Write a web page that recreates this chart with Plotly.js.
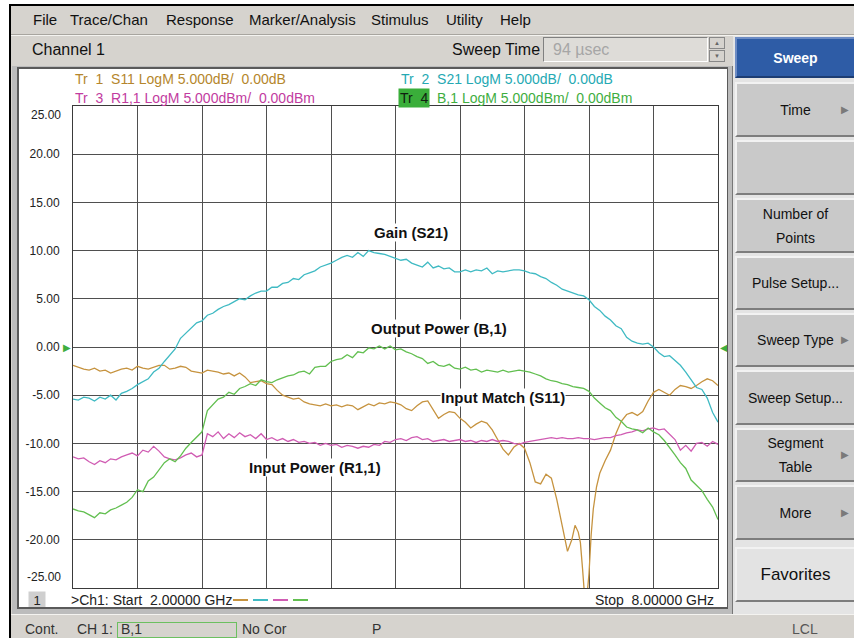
<!DOCTYPE html>
<html><head><meta charset="utf-8">
<script src="https://cdn.plot.ly/plotly-3.0.1.min.js"></script>
<style>
html,body{margin:0;padding:0;}
body{width:854px;height:638px;position:relative;overflow:hidden;background:#fff;font-family:Arial,"Liberation Sans",sans-serif;color:#111;}
.a{position:absolute;white-space:nowrap;}
.m{font-size:15px;line-height:18px;top:11px;}
.btn{position:absolute;left:735px;width:119px;background:#c9c9c9;border-top:2px solid #f2f2f2;border-left:2px solid #f2f2f2;border-bottom:2px solid #7d7d7d;box-sizing:border-box;display:flex;align-items:center;justify-content:center;text-align:center;font-size:14px;line-height:24px;color:#111;}
.arr{position:absolute;right:5px;top:50%;transform:translateY(-50%);font-size:10px;color:#7a7a7a;line-height:10px;}
.st{font-size:14px;line-height:16px;top:621px;color:#333;}
</style>
</head><body>
<div class="a" style="left:9px;top:4px;width:845px;height:634px;background:#d6d3ce;border-top:2px solid #000;border-left:2px solid #000;box-sizing:border-box;"></div>
<div class="a m" style="left:33px">File</div>
<div class="a m" style="left:70px">Trace/Chan</div>
<div class="a m" style="left:166px">Response</div>
<div class="a m" style="left:249px">Marker/Analysis</div>
<div class="a m" style="left:371px">Stimulus</div>
<div class="a m" style="left:446px">Utility</div>
<div class="a m" style="left:500px">Help</div>
<div class="a" style="left:11px;top:34px;width:843px;height:1px;background:#a8a59f;"></div>
<div class="a" style="left:11px;top:35px;width:843px;height:1px;background:#f4f3f0;"></div>
<div class="a" style="left:32px;top:41px;font-size:16px;line-height:18px;">Channel 1</div>
<div class="a" style="left:452px;top:41px;font-size:16px;line-height:18px;">Sweep Time</div>
<div class="a" style="left:543px;top:37px;width:165px;height:25px;background:#dedcd8;border-top:1px solid #808080;border-left:1px solid #808080;border-bottom:1px solid #fff;border-right:1px solid #fff;box-sizing:border-box;"></div>
<div class="a" style="left:553px;top:41px;font-size:16px;line-height:18px;color:#a6a6a6;">94 µsec</div>
<div class="a" style="left:709px;top:37px;width:16px;height:12px;background:#d6d3ce;border:1px solid #888;box-sizing:border-box;font-size:6px;line-height:10px;text-align:center;color:#666;">▲</div>
<div class="a" style="left:709px;top:50px;width:16px;height:12px;background:#d6d3ce;border:1px solid #888;box-sizing:border-box;font-size:6px;line-height:10px;text-align:center;color:#666;">▼</div>
<div class="a" style="left:12px;top:66px;width:721px;height:548px;background:#bcbcbc;border-right:1px solid #777;box-sizing:border-box;"></div>
<div class="a" style="left:17px;top:67px;width:711px;height:542px;background:#5a5a5a;"></div>
<div class="a" style="left:733px;top:36px;width:121px;height:578px;background:#e4e4e4;"></div>
<div class="btn" style="top:37px;height:41px;background:#2e5ca6;color:#fff;font-weight:bold;border-top-color:#6d8cc4;border-left-color:#6d8cc4;border-bottom-color:#1d3d73;">Sweep</div>
<div class="btn" style="top:82px;height:55px;">Time<span class="arr">▶</span></div>
<div class="btn" style="top:140px;height:55px;"></div>
<div class="btn" style="top:198px;height:55px;">Number of<br>Points</div>
<div class="btn" style="top:256px;height:54px;">Pulse Setup...</div>
<div class="btn" style="top:313px;height:54px;">Sweep Type<span class="arr">▶</span></div>
<div class="btn" style="top:370px;height:55px;">Sweep Setup...</div>
<div class="btn" style="top:428px;height:54px;">Segment<br>Table<span class="arr">▶</span></div>
<div class="btn" style="top:485px;height:55px;">More<span class="arr">▶</span></div>
<div class="btn" style="top:547px;height:55px;background:#e3e3e3;font-size:17px;">Favorites</div>
<div class="a" style="left:11px;top:614px;width:843px;height:24px;background:#d6d3ce;border-top:1px solid #f4f3f0;box-sizing:border-box;"></div>
<div class="a st" style="left:25px;">Cont.</div>
<div class="a st" style="left:77px;">CH 1:</div>
<div class="a" style="left:117px;top:622px;width:120px;height:16px;border:1px solid #6cc060;box-sizing:border-box;"></div>
<div class="a st" style="left:121px;">B,1</div>
<div class="a st" style="left:242px;">No Cor</div>
<div class="a st" style="left:372px;">P</div>
<div class="a st" style="left:792px;color:#555;">LCL</div>
<div id="plot" class="a" style="left:19px;top:69px;width:708px;height:538px;"></div>
<script>
// ---- data (frequency in GHz, levels in dB / dBm) ----
const freq = [
 2.00,2.05,2.10,2.15,2.20,2.25,2.30,2.35,2.40,2.45,
 2.50,2.55,2.60,2.65,2.70,2.75,2.80,2.85,2.90,2.95,
 3.00,3.05,3.10,3.15,3.20,3.25,3.30,3.35,3.40,3.45,
 3.50,3.55,3.60,3.65,3.70,3.75,3.80,3.85,3.90,3.95,
 4.00,4.05,4.10,4.15,4.20,4.25,4.30,4.35,4.40,4.45,
 4.50,4.55,4.60,4.65,4.70,4.75,4.80,4.85,4.90,4.95,
 5.00,5.05,5.10,5.15,5.20,5.25,5.30,5.35,5.40,5.45,
 5.50,5.55,5.60,5.65,5.70,5.75,5.80,5.85,5.90,5.95,
 6.00,6.05,6.10,6.15,6.20,6.25,6.30,6.35,6.40,6.45,
 6.50,6.55,6.60,6.65,6.70,6.75,6.80,6.85,6.90,6.95,
 7.00,7.05,7.10,7.15,7.20,7.25,7.30,7.35,7.40,7.45,
 7.50,7.55,7.60,7.65,7.70,7.75,7.80,7.85,7.90,7.95,
 8.00];
const gainS21 = [
 -5.4,-5.5,-5.2,-5.3,-5.6,-5.2,-5.4,-5.0,-5.5,-4.8,
 -4.6,-4.3,-3.9,-3.6,-3.3,-2.6,-2.2,-1.5,-0.9,-0.2,
 0.9,1.4,1.9,2.5,2.7,3.3,3.5,3.9,4.2,4.4,
 4.7,5.0,4.9,5.3,5.6,5.8,5.8,6.2,6.2,6.6,
 6.7,7.1,7.0,7.5,7.7,7.9,8.3,8.5,8.7,9.0,
 9.3,9.5,9.3,9.8,9.4,10.0,9.8,9.7,9.6,9.4,
 9.2,9.0,9.1,8.7,8.5,8.3,8.8,8.2,8.4,8.1,
 8.2,7.8,7.8,8.0,7.8,8.0,7.9,8.2,7.6,7.9,
 7.8,7.9,8.0,8.0,7.9,7.7,7.6,7.3,7.1,6.7,
 6.4,6.0,5.8,5.6,5.4,5.3,4.9,4.2,3.8,3.2,
 2.8,2.2,1.9,1.0,0.6,0.4,0.3,0.4,0.0,-0.6,
 -1.0,-0.9,-1.4,-1.9,-2.6,-3.4,-4.2,-4.4,-5.3,-6.8,
 -7.8];
const outputB1 = [
 -16.8,-17.0,-17.1,-17.4,-17.7,-17.2,-17.3,-16.9,-16.7,-16.4,
 -16.1,-15.6,-14.8,-15.0,-13.9,-13.5,-12.8,-12.0,-11.6,-11.9,
 -11.3,-10.5,-9.9,-9.3,-8.8,-6.6,-6.0,-5.4,-5.2,-4.7,
 -4.9,-4.3,-4.1,-3.8,-4.0,-3.4,-3.6,-3.7,-3.4,-3.2,
 -3.0,-2.9,-2.6,-2.5,-2.8,-2.1,-2.0,-2.0,-1.5,-1.3,
 -1.2,-0.8,-1.1,-0.5,-0.6,-0.1,-0.2,0.1,-0.2,0.1,
 -0.3,-0.2,-0.5,-0.7,-1.0,-1.2,-1.7,-1.5,-1.9,-2.0,
 -1.8,-2.2,-2.3,-2.1,-2.4,-2.3,-2.6,-2.4,-2.5,-2.6,
 -2.4,-2.6,-2.5,-2.4,-2.5,-2.6,-2.8,-3.0,-3.3,-3.5,
 -3.6,-3.8,-3.9,-4.1,-4.2,-4.3,-4.6,-5.3,-5.8,-6.3,
 -6.6,-7.3,-7.7,-8.3,-8.5,-8.6,-8.9,-8.4,-8.8,-9.1,
 -9.7,-10.4,-11.2,-12.0,-12.6,-13.8,-14.4,-14.9,-15.8,-16.6,
 -17.9];
const inputR11 = [
 -11.4,-11.6,-11.5,-11.9,-12.2,-11.8,-12.0,-11.6,-11.7,-11.4,
 -11.2,-11.0,-11.3,-10.7,-10.9,-10.3,-10.8,-11.4,-11.6,-11.7,
 -11.5,-11.2,-11.0,-11.4,-11.2,-9.0,-9.3,-8.8,-9.5,-9.0,
 -9.4,-8.9,-9.3,-9.1,-9.5,-9.0,-9.6,-9.4,-9.7,-9.5,
 -9.8,-9.6,-9.9,-9.8,-10.0,-9.9,-10.2,-10.0,-10.2,-10.1,
 -10.4,-10.2,-10.3,-10.5,-10.3,-10.4,-10.1,-10.2,-9.8,-9.9,
 -9.6,-9.5,-9.7,-9.4,-9.3,-9.6,-9.5,-9.8,-9.7,-9.6,
 -9.8,-9.7,-9.6,-9.8,-9.7,-9.9,-9.7,-9.8,-9.6,-9.8,
 -9.7,-9.8,-10.0,-10.1,-9.9,-9.8,-9.7,-9.6,-9.5,-9.4,
 -9.5,-9.4,-9.5,-9.5,-9.4,-9.5,-9.5,-9.6,-9.5,-9.4,
 -9.4,-9.2,-9.1,-8.9,-8.8,-8.6,-8.7,-8.5,-8.4,-8.6,
 -8.5,-9.0,-9.6,-10.7,-10.2,-10.8,-10.0,-9.9,-10.3,-9.8,
 -10.1];
const s11Freq = [
 2.00,2.05,2.10,2.15,2.20,2.25,2.30,2.35,2.40,2.45,
 2.50,2.55,2.60,2.65,2.70,2.75,2.80,2.85,2.90,2.95,
 3.00,3.05,3.10,3.15,3.20,3.25,3.30,3.35,3.40,3.45,
 3.50,3.55,3.60,3.65,3.70,3.75,3.80,3.85,3.90,3.95,
 4.00,4.05,4.10,4.15,4.20,4.25,4.30,4.35,4.40,4.45,
 4.50,4.55,4.60,4.65,4.70,4.75,4.80,4.85,4.90,4.95,
 5.00,5.05,5.10,5.15,5.20,5.25,5.30,5.35,5.40,5.45,
 5.50,5.55,5.60,5.65,5.70,5.75,5.80,5.85,5.90,5.95,
 6.00,6.05,6.10,6.15,6.20,6.25,6.30,6.35,6.40,6.45,
 6.50,6.55,6.60,6.64,6.67,6.70,6.72,6.74,6.76,6.78,
 6.80,6.82,6.84,6.87,6.90,6.95,
 7.00,7.05,7.10,7.15,7.20,7.25,7.30,7.35,7.40,7.45,
 7.50,7.55,7.60,7.65,7.70,7.75,7.80,7.85,7.90,7.95,
 8.00];
const matchS11 = [
 -1.9,-2.1,-2.3,-2.4,-2.2,-2.5,-2.4,-2.7,-2.5,-2.3,
 -2.2,-2.4,-2.0,-2.2,-2.3,-2.1,-1.9,-1.9,-2.3,-2.2,
 -2.0,-2.1,-2.5,-2.6,-2.7,-2.4,-2.5,-2.6,-2.8,-2.7,
 -3.0,-2.7,-3.1,-3.7,-3.6,-3.5,-3.8,-3.9,-4.5,-5.0,
 -5.2,-5.4,-5.3,-5.7,-5.9,-6.0,-6.1,-5.9,-6.1,-6.0,
 -6.2,-6.0,-6.1,-6.5,-6.2,-5.9,-6.1,-5.8,-5.9,-5.7,
 -5.8,-6.0,-6.4,-6.6,-6.1,-5.7,-5.6,-6.5,-7.4,-7.0,
 -6.7,-6.8,-7.4,-7.8,-8.4,-8.0,-7.7,-7.9,-8.6,-9.6,
 -10.6,-11.2,-10.4,-10.0,-10.5,-12.0,-14.0,-14.2,-13.2,-13.6,
 -15.8,-18.5,-21.2,-20.0,-18.5,-19.2,-20.3,-23.0,-26.0,-26.0,
 -23.5,-19.5,-16.8,-14.5,-13.1,-11.8,
 -10.7,-9.0,-7.7,-7.0,-6.8,-7.1,-6.7,-5.6,-4.7,-4.4,
 -4.7,-5.0,-4.4,-4.0,-4.1,-4.3,-4.0,-3.6,-3.3,-3.5,
 -4.0];
const yTickVals = [-20,-15,-10,-5,0,5,10,15,20];
const yTickText = ['-20.00','-15.00','-10.00','-5.00','0.00','5.00','10.00','15.00','20.00'];
const yEdgeVals = [25,-25];
const yEdgeText = ['25.00','-25.00'];
const traceNames = ['S11','S21','R1,1','B,1'];
const traceHeaders = [
 'Tr\u00a0\u00a01\u00a0\u00a0S11 LogM 5.000dB/\u00a0\u00a00.00dB',
 'Tr\u00a0\u00a02\u00a0\u00a0S21 LogM 5.000dB/\u00a0\u00a00.00dB',
 'Tr\u00a0\u00a03\u00a0\u00a0R1,1 LogM 5.000dBm/\u00a0\u00a00.00dBm',
 'B,1 LogM 5.000dBm/\u00a0\u00a00.00dBm'];
const labelTexts = ['Gain (S21)','Output Power (B,1)','Input Match (S11)','Input Power (R1,1)'];
const startText = '>Ch1: Start\u00a0\u00a02.00000 GHz';
const stopText = 'Stop\u00a0\u00a08.00000 GHz';

// ---- styling ----
const C = {s11:'#c6933f', s21:'#3fbac3', r11:'#d05cb3', b1:'#62bf50'};
const T = {s11:'#b5862c', s21:'#25a9b3', r11:'#c23c9f', b1:'#3fae3f'};
const FONT = 'Arial, "Liberation Sans", sans-serif';
const PX0=73, PX1=718, PY0=106, PY1=588;
const px2x = p => (p-PX0)/(PX1-PX0);
const py2y = p => (PY1-p)/(PY1-PY0);

const line = (x,y,name,color) => ({x, y, name, type:'scatter', mode:'lines', line:{color, width:1.3}, hoverinfo:'skip'});
const data = [
  line(s11Freq, matchS11, traceNames[0], C.s11),
  line(freq, gainS21, traceNames[1], C.s21),
  line(freq, inputR11, traceNames[2], C.r11),
  line(freq, outputB1, traceNames[3], C.b1)
];

const ann = [];
const txt = (o) => Object.assign({showarrow:false, xanchor:'left', yanchor:'middle'}, o);
ann.push(txt({xref:'paper',yref:'paper',x:px2x(73),y:py2y(79),text:traceHeaders[0],font:{family:FONT,size:14,color:T.s11}}));
ann.push(txt({xref:'paper',yref:'paper',x:px2x(399),y:py2y(79),text:traceHeaders[1],font:{family:FONT,size:14,color:T.s21}}));
ann.push(txt({xref:'paper',yref:'paper',x:px2x(73),y:py2y(98),text:traceHeaders[2],font:{family:FONT,size:14,color:T.r11}}));
ann.push(txt({xref:'paper',yref:'paper',x:px2x(398),y:py2y(98),text:'Tr\u00a0\u00a04',bgcolor:'#3aae3a',borderpad:1,font:{family:FONT,size:14,color:'#102010'}}));
ann.push(txt({xref:'paper',yref:'paper',x:px2x(435),y:py2y(98),text:traceHeaders[3],font:{family:FONT,size:14,color:T.b1}}));
// edge tick labels (instrument draws them inset)
ann.push(txt({xref:'paper',yref:'y',x:0,xanchor:'right',xshift:-10,y:yEdgeVals[0],yshift:-9,text:yEdgeText[0],font:{family:FONT,size:12,color:'#222'}}));
ann.push(txt({xref:'paper',yref:'y',x:0,xanchor:'right',xshift:-10,y:yEdgeVals[1],yshift:11,text:yEdgeText[1],font:{family:FONT,size:12,color:'#222'}}));
// reference markers
ann.push(txt({xref:'paper',yref:'y',x:0,xanchor:'right',y:0,text:'▶',font:{family:'DejaVu Sans',size:10,color:'#3fae3f'}}));
ann.push(txt({xref:'paper',yref:'y',x:1,xanchor:'left',y:0,text:'◀',font:{family:'DejaVu Sans',size:10,color:'#3fae3f'}}));
// trace labels
const lbl = (t,x,y) => txt({xref:'x',yref:'y',x,y,xanchor:'center',text:'<b>'+t+'</b>',bgcolor:'#ffffff',borderpad:0,font:{family:FONT,size:15,color:'#111'}});
ann.push(lbl(labelTexts[0],5.14,11.9));
ann.push(lbl(labelTexts[1],5.40,1.97));
ann.push(lbl(labelTexts[2],6.00,-5.2));
ann.push(lbl(labelTexts[3],4.25,-12.55));
// footer
ann.push(txt({xref:'paper',yref:'paper',x:px2x(37),xanchor:'center',y:py2y(600),text:'\u00a01\u00a0',bgcolor:'#cfcfcf',borderpad:1,font:{family:FONT,size:13,color:'#222'}}));
ann.push(txt({xref:'paper',yref:'paper',x:px2x(69),y:py2y(600),text:startText,font:{family:FONT,size:14,color:'#222'}}));
ann.push(txt({xref:'paper',yref:'paper',x:px2x(716),xanchor:'right',y:py2y(600),text:stopText,font:{family:FONT,size:14,color:'#222'}}));

const shapes = [];
[[233,C.s11],[253,C.s21],[273,C.r11],[293,C.b1]].forEach(([p,c]) => {
  shapes.push({type:'line',xref:'paper',yref:'paper',x0:px2x(p),x1:px2x(p+15),y0:py2y(600),y1:py2y(600),line:{color:c,width:2}});
});

const layout = {
  width:708, height:538,
  margin:{l:54, r:9, t:37, b:19, pad:0},
  paper_bgcolor:'#ffffff', plot_bgcolor:'#ffffff',
  showlegend:false,
  font:{family:FONT, color:'#222'},
  xaxis:{range:[2,8], tick0:2, dtick:0.6, showticklabels:false, ticks:'', showgrid:true, gridcolor:'#4f4f4f', gridwidth:1, zeroline:false, showline:true, mirror:true, linecolor:'#3a3a3a', linewidth:1},
  yaxis:{range:[-25,25], tickvals:yTickVals, ticktext:yTickText, ticks:'', ticklabelstandoff:10, tickfont:{family:FONT,size:12,color:'#222'}, showgrid:true, gridcolor:'#4f4f4f', gridwidth:1, zeroline:false, showline:true, mirror:true, linecolor:'#3a3a3a', linewidth:1},
  annotations:ann,
  shapes:shapes
};
Plotly.newPlot('plot', data, layout, {staticPlot:true, displayModeBar:false});
</script>
</body></html>
